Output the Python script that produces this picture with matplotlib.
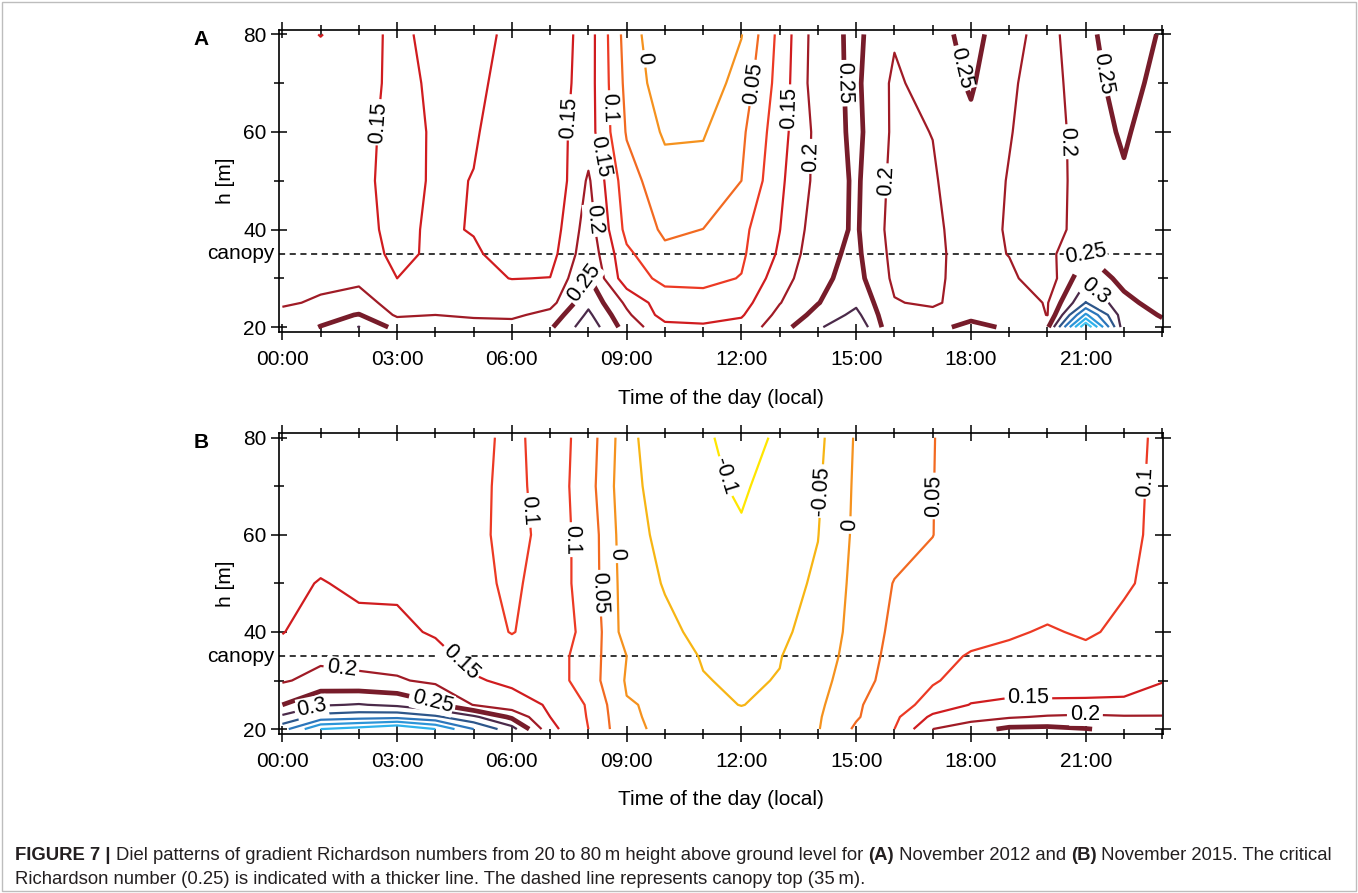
import matplotlib
matplotlib.use("Agg")
import matplotlib.pyplot as plt
import matplotlib.transforms as mtransforms
from matplotlib import font_manager
import numpy as np

# hourly grid (local time) and measurement heights [m]
hours = list(range(24))
heights = [20, 22.5, 25, 30, 35, 40, 50, 60, 70, 80]

# (A) November 2012: gradient Richardson number, one row per height
a_20 = [0.22, 0.252, 0.302, 0.234, 0.215, 0.215, 0.22, 0.243, 0.331, 0.228, 0.166, 0.158,
        0.167, 0.23, 0.293, 0.343, 0.204, 0.24, 0.26, 0.245, 0.24, 0.6, 0.27, 0.26]
a_22 = [0.21, 0.23, 0.253, 0.193, 0.2, 0.195, 0.19, 0.217, 0.31, 0.21, 0.129, 0.13,
        0.145, 0.214, 0.265, 0.314, 0.203, 0.215, 0.24, 0.225, 0.199, 0.46, 0.27, 0.247]
a_25 = [0.195, 0.205, 0.21, 0.19, 0.19, 0.185, 0.18, 0.182, 0.288, 0.19, 0.12, 0.118,
        0.13, 0.198, 0.248, 0.29, 0.203, 0.192, 0.224, 0.22, 0.197, 0.352, 0.265, 0.227]
a_30 = [0.185, 0.19, 0.195, 0.15, 0.165, 0.16, 0.149, 0.151, 0.255, 0.12, 0.09, 0.088,
        0.102, 0.177, 0.239, 0.267, 0.19, 0.19, 0.22, 0.21, 0.17, 0.29, 0.233, 0.225]
a_35 = [0.18, 0.182, 0.158, 0.146, 0.153, 0.155, 0.135, 0.13, 0.235, 0.11, 0.06, 0.06,
        0.092, 0.157, 0.235, 0.26, 0.185, 0.19, 0.218, 0.1985, 0.185, 0.25, 0.235, 0.215]
a_40 = [0.18, 0.18, 0.16, 0.141, 0.156, 0.148, 0.13, 0.12, 0.225, 0.085, 0.042, 0.0505,
        0.087, 0.149, 0.227, 0.256, 0.18, 0.19, 0.223, 0.195, 0.175, 0.225, 0.24, 0.22]
a_50 = [0.178, 0.178, 0.163, 0.132, 0.156, 0.149, 0.12, 0.105, 0.207, 0.07, 0.02, 0.018,
        0.05, 0.14, 0.215, 0.258, 0.185, 0.195, 0.23, 0.197, 0.17, 0.227, 0.245, 0.22]
a_60 = [0.175, 0.175, 0.165, 0.134, 0.155, 0.153, 0.134, 0.13, 0.173, 0.046, -0.007, -0.004,
        0.04, 0.13, 0.215, 0.263, 0.19, 0.201, 0.24, 0.203, 0.17, 0.229, 0.2556, 0.2245]
a_70 = [0.17, 0.17, 0.168, 0.138, 0.157, 0.158, 0.137, 0.121, 0.173, 0.036, -0.031, -0.03,
        0.02, 0.12, 0.23, 0.259, 0.19, 0.225, 0.255, 0.21, 0.167, 0.246, 0.254, 0.2465]
a_80 = [0.165, 0.149, 0.165, 0.141, 0.162, 0.17, 0.137, 0.112, 0.175, 0.028, -0.044, -0.04,
        -0.002, 0.115, 0.228, 0.261, 0.206, 0.226, 0.27, 0.214, 0.183, 0.236, 0.283, 0.244]

# (B) November 2015
b_20 = [0.38, 0.5, 0.52, 0.55, 0.5, 0.4, 0.32, 0.165, 0.1, 0.011, -0.01, -0.025,
        -0.035, -0.025, -0.003, 0.058, 0.1, 0.2, 0.23, 0.26, 0.262, 0.252, 0.24, 0.235]
b_22 = [0.31, 0.37, 0.38, 0.385, 0.36, 0.31, 0.24, 0.15, 0.097, 0.008, -0.012, -0.03,
        -0.04, -0.03, -0.005, 0.045, 0.09, 0.16, 0.18, 0.195, 0.205, 0.21, 0.205, 0.205]
b_25 = [0.25, 0.295, 0.303, 0.29, 0.257, 0.198, 0.17, 0.145, 0.095, 0.003, -0.007, -0.04,
        -0.051, -0.04, -0.01, 0.044, 0.077, 0.12, 0.152, 0.16, 0.158, 0.158, 0.155, 0.16]
b_30 = [0.195, 0.215, 0.21, 0.205, 0.19, 0.155, 0.1407, 0.125, 0.075, -0.005, -0.025, -0.048,
        -0.056, -0.048, -0.015, 0.025, 0.075, 0.095, 0.12, 0.125, 0.128, 0.13, 0.14, 0.149]
b_35 = [0.17, 0.19, 0.185, 0.18, 0.165, 0.135, 0.12, 0.125, 0.075, 0.0, -0.03, -0.053,
        -0.06, -0.052, -0.02, 0.017, 0.069, 0.085, 0.104, 0.11, 0.115, 0.11, 0.12, 0.13]
b_40 = [0.148, 0.175, 0.165, 0.16, 0.145, 0.12, 0.098, 0.12, 0.09, -0.024, -0.04, -0.061,
        -0.068, -0.055, -0.04, 0.0215, 0.0595, 0.07, 0.085, 0.095, 0.104, 0.095, 0.108, 0.12]
b_50 = [0.135, 0.153, 0.14, 0.142, 0.135, 0.115, 0.09, 0.125, 0.08, -0.025, -0.053, -0.07,
        -0.08, -0.065, -0.044, 0.0147, 0.052, 0.06, 0.07, 0.075, 0.078, 0.08, 0.096, 0.11]
b_60 = [0.125, 0.125, 0.125, 0.124, 0.122, 0.12, 0.075, 0.125, 0.08, -0.03, -0.063, -0.08,
        -0.095, -0.08, -0.051, 0.01, 0.03, 0.0495, 0.07, 0.077, 0.08, 0.083, 0.094, 0.106]
b_70 = [0.125, 0.125, 0.125, 0.125, 0.125, 0.118, 0.08, 0.13, 0.07, -0.035, -0.071, -0.09,
        -0.106, -0.081, -0.056, 0.008, 0.03, 0.049, 0.075, 0.08, 0.082, 0.085, 0.095, 0.104]
b_80 = [0.125, 0.125, 0.125, 0.125, 0.125, 0.12, 0.084, 0.13, 0.075, -0.031, -0.094, -0.095,
        -0.112, -0.095, -0.062, 0.0054, 0.03, 0.048, 0.08, 0.085, 0.088, 0.09, 0.095, 0.103]

levels = [-0.1, -0.05, 0.0, 0.05, 0.1, 0.15, 0.2, 0.25, 0.3, 0.35, 0.4, 0.45, 0.5, 0.55]
level_colors = ["#ffe600", "#f7b514", "#f5921e", "#f26a21", "#ec3a24", "#d01c1f",
                "#a01b26", "#771c2a", "#4b2a4a", "#2d568a", "#2c76bb", "#2c95d8",
                "#2fb2ec", "#45c8f4"]
critical = 0.25

xtick_labels = ["00:00", "03:00", "06:00", "09:00", "12:00", "15:00", "18:00", "21:00"]

# where the inline contour labels sit (h, m)
labels_a = {0.15: [(2.5, 62), (7.5, 63), (8.34, 55), (13.26, 65)],
            0.1: [(8.61, 65)],
            0.0: [(9.48, 75)],
            0.05: [(12.35, 70)],
            0.2: [(8.08, 42), (13.79, 55), (15.75, 50), (20.5, 58)],
            0.25: [(7.9, 29), (14.7, 70), (17.71, 73), (21.45, 72), (21.0, 35.5)],
            0.3: [(21.2, 27)]}
labels_b = {0.15: [(4.73, 34.3), (19.5, 26)],
            0.2: [(1.55, 32.9), (20.98, 22.6)],
            0.25: [(3.9, 25)],
            0.3: [(0.77, 24.7)],
            0.1: [(6.4, 65), (7.56, 59), (22.59, 71)],
            0.05: [(8.35, 48), (17.01, 68)],
            0.0: [(8.82, 56), (14.86, 62)],
            -0.1: [(11.57, 72)],
            -0.05: [(14.09, 69)]}

plt.rcParams["font.family"] = ["Liberation Sans", "DejaVu Sans"]


def fmt(v):
    s = f"{v:.2f}".rstrip("0").rstrip(".")
    return "0" if s in ("-0", "") else s


def draw_panel(ax, ri, labels, letter):
    for lvl, col in zip(levels, level_colors):
        if not (ri.min() < lvl < ri.max()):
            continue
        lw = 3.4 if lvl == critical else 1.6
        cs = ax.contour(hours, heights, ri, levels=[lvl], colors=[col], linewidths=[lw],
                        linestyles="solid", negative_linestyles="solid")
        if lvl in labels:
            texts = ax.clabel(cs, manual=labels[lvl], inline=True, fontsize=15.5, fmt=fmt,
                              colors="k", inline_spacing=3)
            for t in texts:
                t.set_bbox(dict(facecolor="white", edgecolor="none", pad=0.5))
                t.set_zorder(4)
    ax.axhline(35, color="k", lw=1.1, ls=(0, (4, 3)), zorder=1)
    ax.set_xlim(-0.09, 23.02)
    ax.set_ylim(19.0, 80.9)
    ax.set_xticks(range(0, 24, 3))
    ax.set_xticklabels(xtick_labels)
    ax.set_xticks(hours, minor=True)
    ax.set_yticks([20, 40, 60, 80])
    ax.set_yticks([30, 50, 70], minor=True)
    ax.tick_params(which="both", direction="inout", top=True, right=True, width=1.1,
                   labelsize=15)
    ax.tick_params(which="major", length=12)
    ax.tick_params(which="minor", length=7)
    ax.tick_params(axis="x", pad=7)
    ax.tick_params(axis="y", pad=3)
    for sp in ax.spines.values():
        sp.set_linewidth(1.2)
    ax.set_xlabel("Time of the day (local)", fontsize=15, labelpad=14)
    ax.set_ylabel("h [m]", fontsize=15, labelpad=6)
    trans = mtransforms.blended_transform_factory(ax.transAxes, ax.transData)
    ax.text(-0.005, 35, "canopy", transform=trans, ha="right", va="center", fontsize=15)
    ax.text(-0.097, 1.0, letter, transform=ax.transAxes, ha="left", va="top",
            fontsize=15, fontweight="bold")


fig = plt.figure(figsize=(13.58, 8.93), dpi=100)
ax_a = fig.add_axes([0.2054, 0.6282, 0.651, 0.3382])
ax_b = fig.add_axes([0.2054, 0.1781, 0.651, 0.3367])

ri_a = np.array([a_20, a_22, a_25, a_30, a_35, a_40, a_50, a_60, a_70, a_80])
ri_b = np.array([b_20, b_22, b_25, b_30, b_35, b_40, b_50, b_60, b_70, b_80])
draw_panel(ax_a, ri_a, labels_a, "A")
draw_panel(ax_b, ri_b, labels_b, "B")

# frame around the figure, as in the journal layout
fig.add_artist(plt.Rectangle((0.0015, 0.002), 0.997, 0.996, transform=fig.transFigure,
                             fill=False, ec="#bdbdbd", lw=1.0))

# caption with bold runs
names = {f.name for f in font_manager.fontManager.ttflist}
cap_family = ["Liberation Sans Narrow"] if "Liberation Sans Narrow" in names else ["Liberation Sans"]
line1 = [("FIGURE 7 | ", "bold"),
         ("Diel patterns of gradient Richardson numbers from 20 to 80\u2009m height above ground level for ", "normal"),
         ("(A)", "bold"), (" November 2012 and ", "normal"), ("(B)", "bold"),
         (" November 2015. The critical", "normal")]
line2 = [("Richardson number (0.25) is indicated with a thicker line. "
          "The dashed line represents canopy top (35\u2009m).", "normal")]

renderer = fig.canvas.get_renderer()
W, H = fig.bbox.width, fig.bbox.height


def line_width(parts, size):
    total = 0
    for txt, wt in parts:
        t = fig.text(0, 0, txt, fontsize=size, fontweight=wt, family=cap_family)
        total += t.get_window_extent(renderer).width
        t.remove()
    return total


cap_size = 13.0
cap_size *= 1322 / line_width(line1, cap_size)


def rich_line(parts, x_px, y_px, size):
    x = x_px
    for txt, wt in parts:
        t = fig.text(x / W, 1 - y_px / H, txt, fontsize=size, fontweight=wt,
                     family=cap_family, va="center", ha="left", color="#231f20")
        x += t.get_window_extent(renderer).width


rich_line(line1, 15, 855, cap_size)
rich_line(line2, 15, 880, cap_size)

fig.savefig("out.png", dpi=100)
